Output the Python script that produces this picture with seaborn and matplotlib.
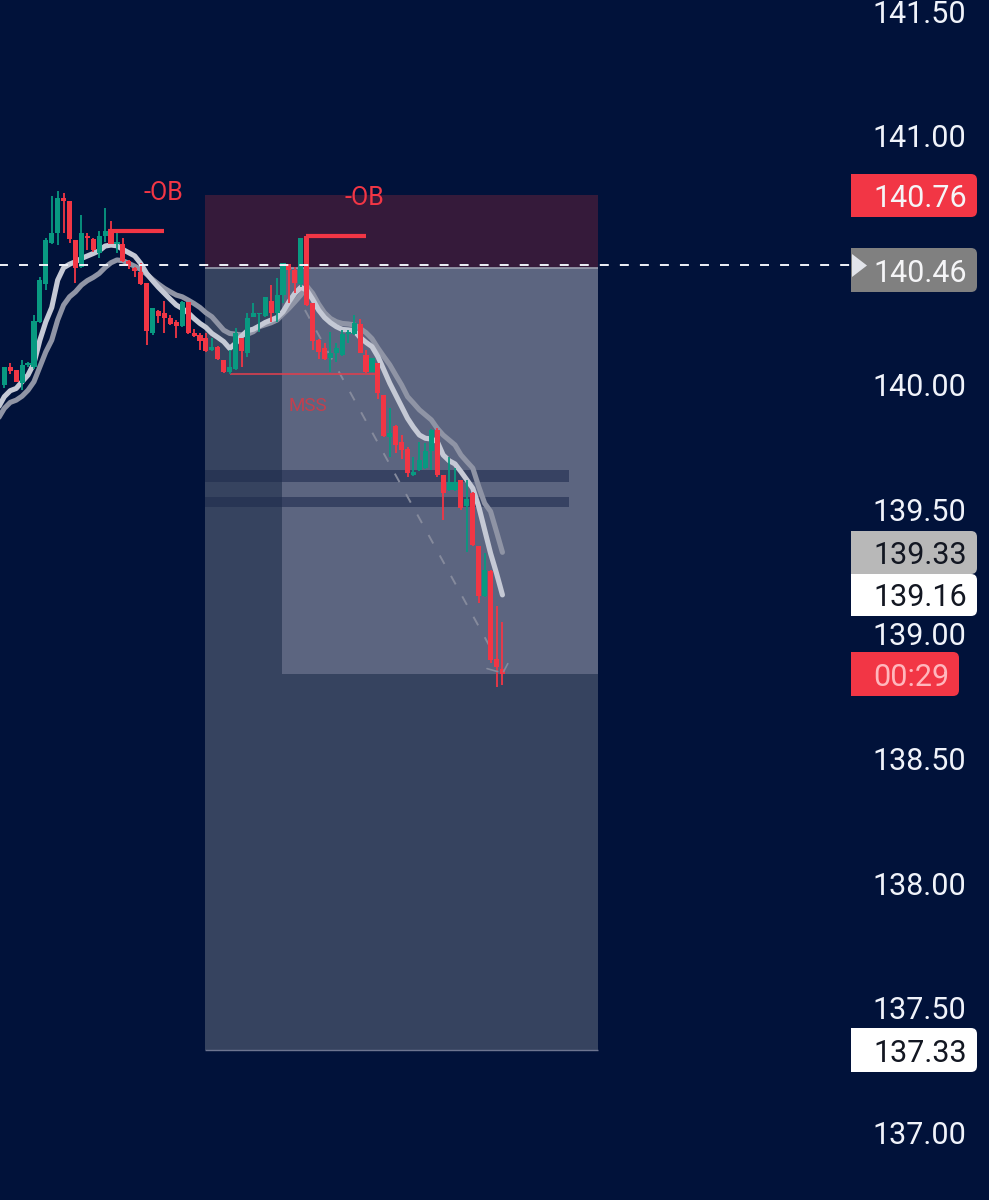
from matplotlib import pyplot as plt
from matplotlib.patches import FancyBboxPatch, Polygon, Rectangle
from matplotlib.transforms import Affine2D, ScaledTranslation
import seaborn as sns
import pandas as pd
import numpy as np

# Candles
opens = [140.004, 140.075, 140.064, 140.010, 140.084, 140.077, 140.258, 140.409, 140.575, 140.613,
         140.753, 140.743, 140.586, 140.479, 140.603, 140.589, 140.532, 140.602, 140.626, 140.570,
         140.572, 140.503, 140.473, 140.456, 140.412, 140.211, 140.302, 140.294, 140.271, 140.257,
         140.240, 140.338, 140.214, 140.204, 140.192, 140.144, 140.157, 140.104, 140.057, 140.070,
         140.191, 140.131, 140.278, 140.289, 140.281, 140.342, 140.294, 140.365, 140.490, 140.466,
         140.409, 140.602, 140.334, 140.184, 140.151, 140.111, 140.131, 140.124, 140.209, 140.209,
         140.249, 140.125, 140.058, 140.094, 139.964, 139.797, 139.840, 139.777, 139.746, 139.643,
         139.663, 139.670, 139.737, 139.824, 139.643, 139.583, 139.583, 139.623, 139.516, 139.572,
         139.358, 139.157, 139.255, 138.903, 138.862]
highs = [140.075, 140.093, 140.066, 140.104, 140.097, 140.285, 140.439, 140.593, 140.763, 140.784,
         140.773, 140.743, 140.586, 140.686, 140.615, 140.593, 140.622, 140.716, 140.664, 140.613,
         140.593, 140.506, 140.476, 140.492, 140.412, 140.313, 140.307, 140.342, 140.285, 140.265,
         140.342, 140.338, 140.227, 140.211, 140.214, 140.191, 140.160, 140.104, 140.144, 140.231,
         140.191, 140.294, 140.334, 140.294, 140.356, 140.405, 140.432, 140.492, 140.490, 140.476,
         140.593, 140.602, 140.334, 140.187, 140.171, 140.218, 140.171, 140.225, 140.225, 140.285,
         140.267, 140.145, 140.114, 140.094, 139.964, 139.911, 139.844, 139.803, 139.754, 139.716,
         139.777, 139.770, 139.826, 139.830, 139.643, 139.716, 139.670, 139.623, 139.623, 139.576,
         139.358, 139.328, 139.261, 139.117, 139.054]
lows = [139.990, 140.048, 140.014, 139.983, 140.075, 140.070, 140.254, 140.385, 140.572, 140.566,
        140.615, 140.575, 140.415, 140.472, 140.546, 140.539, 140.512, 140.579, 140.570, 140.535,
        140.499, 140.468, 140.436, 140.405, 140.164, 140.204, 140.254, 140.214, 140.245, 140.191,
        140.238, 140.208, 140.198, 140.144, 140.137, 140.141, 140.104, 140.053, 140.050, 140.066,
        140.075, 140.117, 140.275, 140.218, 140.278, 140.258, 140.258, 140.332, 140.334, 140.375,
        140.396, 140.321, 140.144, 140.107, 140.104, 140.057, 140.097, 140.120, 140.171, 140.205,
        140.131, 140.054, 140.056, 139.947, 139.797, 139.716, 139.730, 139.706, 139.633, 139.640,
        139.660, 139.666, 139.663, 139.636, 139.462, 139.580, 139.580, 139.502, 139.335, 139.358,
        139.127, 139.154, 138.886, 138.793, 138.799]
closes = [140.075, 140.060, 140.017, 140.084, 140.091, 140.262, 140.425, 140.586, 140.613, 140.753,
          140.743, 140.589, 140.472, 140.613, 140.593, 140.546, 140.602, 140.622, 140.572, 140.579,
          140.503, 140.481, 140.461, 140.409, 140.222, 140.313, 140.281, 140.271, 140.249, 140.242,
          140.338, 140.211, 140.202, 140.182, 140.141, 140.157, 140.107, 140.057, 140.075, 140.211,
          140.141, 140.274, 140.292, 140.294, 140.356, 140.292, 140.365, 140.492, 140.466, 140.415,
          140.593, 140.325, 140.182, 140.138, 140.107, 140.131, 140.151, 140.209, 140.218, 140.251,
          140.134, 140.058, 140.111, 139.971, 139.799, 139.810, 139.763, 139.741, 139.650, 139.656,
          139.703, 139.737, 139.824, 139.643, 139.572, 139.616, 139.616, 139.509, 139.545, 139.362,
          139.157, 139.261, 138.900, 138.870, 138.844]

# Moving averages, first value belongs to the candle left of the screen
fast_ma = [139.914, 139.957, 139.981, 139.990, 140.017, 140.044, 140.091, 140.184, 140.258, 140.315,
           140.425, 140.475, 140.489, 140.499, 140.512, 140.522, 140.532, 140.543, 140.562, 140.566,
           140.563, 140.548, 140.535, 140.522, 140.492, 140.452, 140.423, 140.396, 140.372, 140.348,
           140.325, 140.311, 140.294, 140.271, 140.251, 140.235, 140.211, 140.195, 140.178, 140.151,
           140.171, 140.200, 140.222, 140.228, 140.241, 140.255, 140.265, 140.275, 140.298, 140.338,
           140.372, 140.396, 140.385, 140.348, 140.305, 140.275, 140.254, 140.238, 140.227, 140.225,
           140.222, 140.195, 140.175, 140.158, 140.118, 140.065, 140.011, 139.964, 139.917, 139.870,
           139.834, 139.803, 139.790, 139.787, 139.777, 139.723, 139.700, 139.687, 139.656, 139.623,
           139.589, 139.516, 139.422, 139.328, 139.248, 139.161]
slow_ma = [139.870, 139.910, 139.934, 139.943, 139.959, 139.983, 140.017, 140.077, 140.137, 140.184,
           140.265, 140.325, 140.358, 140.378, 140.405, 140.423, 140.436, 140.452, 140.476, 140.495,
           140.506, 140.503, 140.492, 140.481, 140.468, 140.449, 140.428, 140.409, 140.392, 140.378,
           140.365, 140.358, 140.345, 140.331, 140.315, 140.294, 140.278, 140.251, 140.224, 140.211,
           140.208, 140.205, 140.208, 140.218, 140.238, 140.246, 140.254, 140.265, 140.289, 140.312,
           140.338, 140.365, 140.401, 140.372, 140.329, 140.294, 140.271, 140.258, 140.251, 140.249,
           140.245, 140.231, 140.214, 140.190, 140.152, 140.118, 140.085, 140.044, 140.004, 139.957,
           139.931, 139.904, 139.884, 139.864, 139.830, 139.803, 139.783, 139.763, 139.723, 139.696,
           139.670, 139.596, 139.529, 139.496, 139.415, 139.332]

# Price axis
price_ticks = [141.5, 141.0, 140.0, 139.5, 139.0, 138.5, 138.0, 137.5, 137.0]

# Zones: left candle, right candle, top price, bottom price
ob_zone = (33.85, 100.1, 140.767, 140.474)
stop_zone = (33.85, 100.1, 140.474, 137.333)
target_zone = (46.83, 100.1, 140.474, 138.843)
strips = [(33.85, 95.2, 139.663, 139.614), (33.85, 95.2, 139.554, 139.514)]

# Annotation levels
ob_lines = [(17.5, 26.9, 140.622), (50.8, 61.0, 140.602)]
mss_line = (38.0, 63.0, 140.047)
current_line = 140.484
path_x = [50.7, 82.0]
path_y = [140.305, 138.948]

# Price tags: text, top px, bottom px, box colour, text colour
tags = [('140.76', 174, 217, '#f23645', '#f5f5f7'),
        ('140.46', 248, 292, '#808080', '#f5f5f7'),
        ('139.33', 531, 574, '#b8b8b8', '#131722'),
        ('139.16', 574, 616, '#ffffff', '#131722'),
        ('00:29', 652, 696, '#f23645', '#ffb7bd'),
        ('137.33', 1028, 1072, '#ffffff', '#131722')]

BACKGROUND = '#01123a'
RED = '#f23645'
GREEN = '#089981'


def draw_zone(ax, zone, **kwargs):
    left, right, top, bottom = zone
    ax.add_patch(Rectangle((left, bottom), right - left, top - bottom, **kwargs))


def main():
    sns.set_theme(style='dark')
    plt.rcParams['font.family'] = ['Roboto', 'DejaVu Sans']

    fig = plt.figure(figsize=(9.89, 12), dpi=100, facecolor=BACKGROUND)
    ax = fig.add_axes([0, 0, 1, 1], facecolor=BACKGROUND)

    # Zones go under everything
    draw_zone(ax, ob_zone, facecolor='#351a3a', edgecolor='none', zorder=1)
    draw_zone(ax, stop_zone, facecolor='#36435f', edgecolor='none', zorder=1)
    draw_zone(ax, target_zone, facecolor='#5c6580', edgecolor='none', zorder=1.1)
    for strip in strips:
        draw_zone(ax, strip, facecolor='#1f2c4e', alpha=0.6, edgecolor='none', zorder=1.2)
    ax.hlines(stop_zone[2], stop_zone[0], stop_zone[1], color='#9a9fb0', lw=1.2, zorder=1.3)
    ax.hlines(stop_zone[3], stop_zone[0], stop_zone[1], color='#6d7590', lw=1.0, zorder=1.3)

    # Moving averages
    df_ma = pd.DataFrame({'candle': np.arange(-1, len(fast_ma) - 1), 'fast': fast_ma, 'slow': slow_ma})
    sns.lineplot(data=df_ma, x='candle', y='slow', ax=ax, color='#8f94a5', lw=3.7, zorder=2,
                 solid_capstyle='round')
    sns.lineplot(data=df_ma, x='candle', y='fast', ax=ax, color='#c5c9d5', lw=3.7, zorder=2.1,
                 solid_capstyle='round')

    # Candles
    o, h, l, c = map(np.array, (opens, highs, lows, closes))
    x = np.arange(len(o))
    colors = [GREEN if close_ >= open_ else RED for open_, close_ in zip(o, c)]
    ax.vlines(x, l, h, colors=colors, lw=1.3, zorder=3)
    ax.bar(x, np.abs(c - o), bottom=np.minimum(o, c), width=0.86, color=colors, linewidth=0, zorder=3.1)

    # Annotations
    for left, right, level in ob_lines:
        ax.hlines(level, left, right, color=RED, lw=3, zorder=4)
    ax.hlines(mss_line[2], mss_line[0], mss_line[1], color='#d9404f', lw=1.2, zorder=2.5)
    ax.plot(path_x, path_y, color='#858a9c', lw=1.4, dashes=(5, 7), zorder=2.4)
    ax.plot([81.4, 83.2], [138.865, 138.853], color='#858a9c', lw=1.2, zorder=3.2)
    ax.plot([84.2, 84.9], [138.853, 138.885], color='#858a9c', lw=1.2, zorder=3.2)
    ax.text(26.8, 140.775, '-OB', color=RED, fontsize=18, ha='center', va='center', zorder=5)
    ax.text(60.8, 140.755, '-OB', color=RED, fontsize=18, ha='center', va='center', zorder=5)
    ax.text(51.2, 139.92, 'MSS', color='#c2404f', fontsize=13.5, ha='center', va='center', zorder=5)

    # Current price line runs up to the axis
    ax.plot([-1, 142.8], [current_line, current_line], color='#f0f3fa', lw=1.4, dashes=(4.6, 5.7), zorder=6)

    # Same window as the screenshot
    ax.set_xlim(-0.725, 166.05)
    ax.set_ylim(136.731, 141.55)
    ax.set_xlabel('')
    ax.set_ylabel('')
    ax.grid(False)
    for spine in ax.spines.values():
        spine.set_visible(False)

    ax.set_xticks([])
    ax.yaxis.tick_right()
    ax.set_yticks(price_ticks)
    ax.set_yticklabels([f'{p:.2f}' for p in price_ticks])
    ax.tick_params(axis='y', length=0, pad=-84, labelsize=22, labelcolor='#f0f3fa')
    lift = ScaledTranslation(0, 1 / 100, fig.dpi_scale_trans)
    for label in ax.get_yticklabels():
        label.set_transform(label.get_transform() + lift)

    # Price tags sit at screen positions, top-left origin like the screenshot
    px = Affine2D().scale(1 / 989, -1 / 1200).translate(0, 1) + fig.transFigure
    for text, top, bottom, box_color, text_color in tags:
        right = 959 if text == '00:29' else 977
        ax.add_patch(FancyBboxPatch((851, top), right - 851, bottom - top, boxstyle='round,pad=0,rounding_size=6',
                                    facecolor=box_color, edgecolor='none', transform=px, zorder=7, clip_on=False))
        ax.add_patch(Rectangle((851, top), 20, bottom - top, facecolor=box_color, edgecolor='none',
                               transform=px, zorder=7, clip_on=False))
        ax.text(873, (top + bottom) / 2, text, color=text_color, fontsize=22, ha='left', va='center_baseline',
                transform=px, zorder=8)
    ax.add_patch(Polygon([(852, 254), (867, 265.5), (852, 277)], closed=True, facecolor='#e2e4ea', edgecolor='none',
                         transform=px, zorder=8, clip_on=False))

    plt.savefig('out.png', dpi=100, facecolor=BACKGROUND)
    plt.clf()


if __name__ == "__main__":
    main()
